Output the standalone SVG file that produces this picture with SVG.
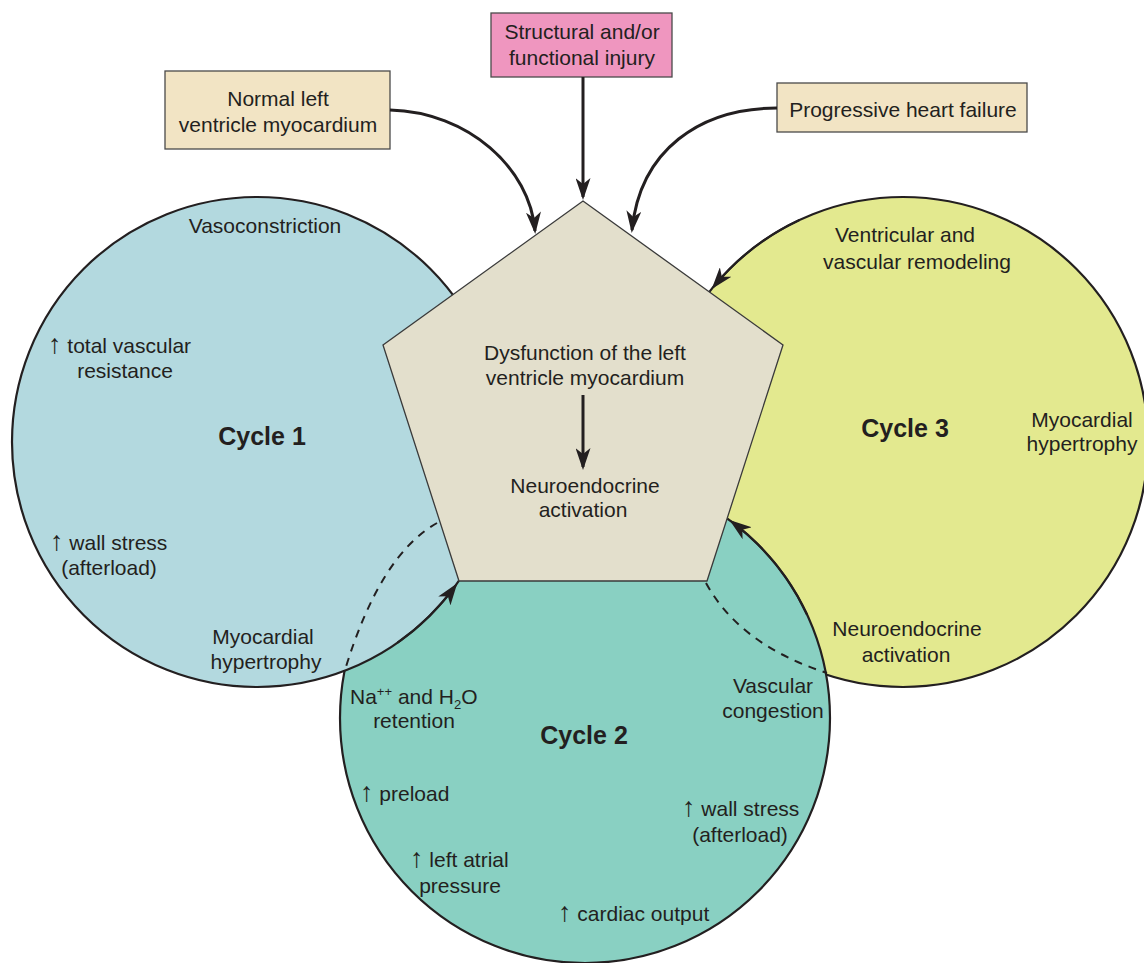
<svg xmlns="http://www.w3.org/2000/svg" width="1144" height="963" viewBox="0 0 1144 963">
<style>
text{font-family:"Liberation Sans",Arial,"DejaVu Sans",sans-serif;font-size:21px;fill:#231f20}
.c{text-anchor:middle}
.b{font-weight:bold;font-size:25px}
.up{font-size:27px}
.circ{stroke:#231f20;stroke-width:2.2}
.box{stroke:#4a4a4a;stroke-width:1.3}
.arr{fill:none;stroke:#231f20;stroke-width:3;marker-end:url(#ah)}
.arc{fill:none;stroke:#231f20;stroke-width:2.2;marker-end:url(#ah)}
.dash{fill:none;stroke:#231f20;stroke-width:2;stroke-dasharray:8 7}
</style>
<defs>
<marker id="ah" viewBox="0 0 22 15" markerWidth="22" markerHeight="15" refX="19" refY="7.5" orient="auto" markerUnits="userSpaceOnUse">
<path d="M0,0 L22,7.5 L0,15 L6,7.5 Z" fill="#231f20"/>
</marker>
</defs>
<rect width="1144" height="963" fill="#ffffff"/>
<g id="cycle3">
<circle class="circ" cx="903" cy="442" r="245" fill="#e3e98f"/>
</g>
<g id="cycle2">
<circle class="circ" cx="585" cy="718" r="245" fill="#89d0c2"/>
</g>
<g id="cycle1">
<circle class="circ" cx="257" cy="442" r="245" fill="#b3d9df"/>
</g>
<g id="pentagon">
<polygon points="583,201 783,345 707,581 459,581 383,345" fill="#e3dfcc" stroke="#3a3a3a" stroke-width="1.3"/>
</g>
<g id="box-normal">
<rect class="box" x="165" y="71" width="225" height="78" fill="#f2e4c4"/>
<text class="c" x="278" y="106">Normal left</text>
<text class="c" x="278" y="132">ventricle myocardium</text>
</g>
<g id="box-injury">
<rect class="box" x="491" y="13" width="181" height="64" fill="#ef96bf"/>
<text class="c" x="582" y="39">Structural and/or</text>
<text class="c" x="582" y="65">functional injury</text>
</g>
<g id="box-progressive">
<rect class="box" x="777" y="83" width="250" height="49" fill="#f2e4c4"/>
<text class="c" x="903" y="117">Progressive heart failure</text>
</g>
<g id="connectors">
<path class="arr" d="M583,77 L583,197"/>
<path class="arr" d="M390,110 C468,112 530,168 535,231"/>
<path class="arr" d="M777,108 C700,108 640,150 632,230"/>
<path class="arr" d="M583,395 L583,467"/>
<path class="arc" d="M397.5,642.7 A245,245 0 0 0 455.5,585.6"/>
<path class="arc" d="M807,614.5 A245,245 0 0 0 731.9,521.9"/>
<path class="arc" d="M799.5,220 A245,245 0 0 0 713.6,286.7"/>
<path class="dash" d="M437,523 Q380,555 345,670"/>
<path class="dash" d="M706,583 Q740,645 827,673"/>
</g>
<g id="labels-cycle1">
<text class="c" x="265" y="233">Vasoconstriction</text>
<text x="48" y="353"><tspan class="up">↑</tspan> total vascular</text>
<text class="c" x="125" y="378">resistance</text>
<text class="c b" x="262" y="445">Cycle 1</text>
<text x="50" y="550"><tspan class="up">↑</tspan> wall stress</text>
<text class="c" x="109" y="575">(afterload)</text>
<text class="c" x="263" y="644">Myocardial</text>
<text class="c" x="266" y="669">hypertrophy</text>
</g>
<g id="labels-pentagon">
<text class="c" x="585" y="360">Dysfunction of the left</text>
<text class="c" x="585" y="385">ventricle myocardium</text>
<text class="c" x="585" y="493">Neuroendocrine</text>
<text class="c" x="583" y="517">activation</text>
</g>
<g id="labels-cycle3">
<text class="c" x="905" y="242">Ventricular and</text>
<text class="c" x="917" y="269">vascular remodeling</text>
<text class="c b" x="905" y="437">Cycle 3</text>
<text class="c" x="1082" y="427">Myocardial</text>
<text class="c" x="1082" y="451">hypertrophy</text>
<text class="c" x="907" y="636">Neuroendocrine</text>
<text class="c" x="906" y="662">activation</text>
</g>
<g id="labels-cycle2">
<text class="c" x="773" y="693">Vascular</text>
<text class="c" x="773" y="718">congestion</text>
<text x="350" y="704">Na<tspan font-size="13" dy="-8">++</tspan><tspan dy="8"> and H</tspan><tspan font-size="13" dy="5">2</tspan><tspan dy="-5">O</tspan></text>
<text class="c" x="414" y="728">retention</text>
<text class="c b" x="584" y="744">Cycle 2</text>
<text x="360" y="801"><tspan class="up">↑</tspan> preload</text>
<text x="682" y="816"><tspan class="up">↑</tspan> wall stress</text>
<text class="c" x="740" y="842">(afterload)</text>
<text x="410" y="867"><tspan class="up">↑</tspan> left atrial</text>
<text class="c" x="460" y="893">pressure</text>
<text x="558" y="921"><tspan class="up">↑</tspan> cardiac output</text>
</g>
</svg>
